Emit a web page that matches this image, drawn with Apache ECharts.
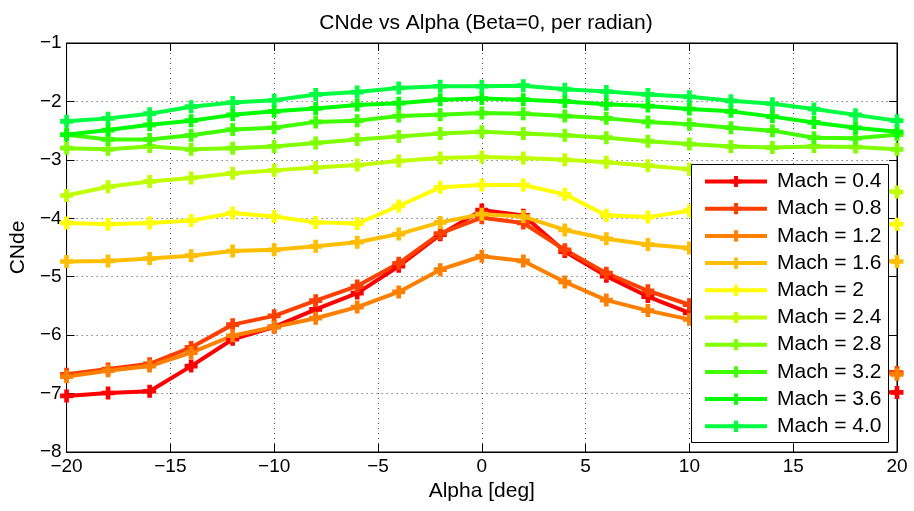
<!DOCTYPE html>
<html>
<head>
<meta charset="utf-8">
<script src="https://cdn.jsdelivr.net/npm/echarts@6/dist/echarts.min.js"></script>
<style>html,body{margin:0;padding:0;background:#fff;}#c{width:914px;height:511px;}</style>
</head>
<body>
<div id="c"></div>
<script>
const alpha = [-20,-18,-16,-14,-12,-10,-8,-6,-4,-2,0,2,4,6,8,10,12,14,16,18,20];
const machLabels = ['Mach = 0.4','Mach = 0.8','Mach = 1.2','Mach = 1.6','Mach = 2','Mach = 2.4','Mach = 2.8','Mach = 3.2','Mach = 3.6','Mach = 4.0'];
const colors = ['#ff0000','#ff4000','#ff8000','#ffbf00','#ffff00','#bfff00','#80ff00','#40ff00','#00ff00','#00ff40'];
const m04 = [-7.04,-6.99,-6.96,-6.53,-6.07,-5.86,-5.56,-5.28,-4.82,-4.28,-3.86,-3.95,-4.57,-4.99,-5.34,-5.62,-6.05,-6.50,-6.93,-6.96,-6.98];
const m08 = [-6.67,-6.58,-6.49,-6.21,-5.82,-5.67,-5.41,-5.16,-4.77,-4.26,-3.99,-4.08,-4.54,-4.94,-5.24,-5.48,-5.75,-6.10,-6.45,-6.57,-6.64];
const m12 = [-6.71,-6.61,-6.53,-6.30,-6.01,-5.86,-5.71,-5.52,-5.26,-4.88,-4.65,-4.73,-5.09,-5.40,-5.58,-5.73,-5.90,-6.25,-6.50,-6.60,-6.67];
const m16 = [-4.74,-4.73,-4.69,-4.64,-4.56,-4.54,-4.48,-4.41,-4.27,-4.07,-3.93,-3.97,-4.20,-4.35,-4.45,-4.51,-4.56,-4.62,-4.67,-4.71,-4.74];
const m20 = [-4.08,-4.10,-4.08,-4.04,-3.91,-3.97,-4.07,-4.09,-3.79,-3.47,-3.43,-3.43,-3.59,-3.95,-3.98,-3.87,-3.93,-4.03,-4.08,-4.10,-4.10];
const m24 = [-3.61,-3.46,-3.37,-3.31,-3.23,-3.18,-3.13,-3.09,-3.02,-2.97,-2.95,-2.97,-3.00,-3.04,-3.10,-3.16,-3.22,-3.30,-3.38,-3.47,-3.55];
const m28 = [-2.80,-2.82,-2.77,-2.82,-2.80,-2.77,-2.71,-2.65,-2.60,-2.55,-2.52,-2.55,-2.58,-2.62,-2.68,-2.73,-2.77,-2.79,-2.77,-2.78,-2.82];
const m32 = [-2.57,-2.65,-2.65,-2.58,-2.48,-2.45,-2.35,-2.33,-2.25,-2.23,-2.20,-2.21,-2.25,-2.29,-2.35,-2.39,-2.45,-2.50,-2.62,-2.63,-2.57];
const m36 = [-2.57,-2.49,-2.40,-2.33,-2.23,-2.17,-2.12,-2.06,-2.03,-1.97,-1.95,-1.97,-2.00,-2.05,-2.08,-2.13,-2.17,-2.26,-2.36,-2.45,-2.52];
const m40 = [-2.34,-2.29,-2.21,-2.09,-2.02,-1.98,-1.88,-1.84,-1.77,-1.74,-1.74,-1.73,-1.79,-1.83,-1.88,-1.92,-1.99,-2.04,-2.13,-2.23,-2.33];
const allSeries = [m04,m08,m12,m16,m20,m24,m28,m32,m36,m40];
const xTicks = [-20,-15,-10,-5,0,5,10,15,20];
const yTicks = [-8,-7,-6,-5,-4,-3,-2,-1];

const FONT = 'Liberation Sans, Arial, Helvetica, sans-serif';
const plus = 'path://M3.2,0H6.8V3.2H10V6.8H6.8V10H3.2V6.8H0V3.2H3.2Z';
const minusFmt = v => String(v).replace('-', '\u2212');

const chart = echarts.init(document.getElementById('c'), null, {renderer:'canvas'});
const series = allSeries.map((arr, i) => ({
  name: machLabels[i],
  type: 'line',
  data: alpha.map((a, k) => [a, arr[k]]),
  symbol: plus,
  symbolSize: 13,
  showAllSymbol: true,
  clip: false,
  lineStyle: {color: colors[i], width: 4},
  itemStyle: {color: colors[i]},
  emphasis: {disabled: true},
  animation: false,
  z: 2
}));

chart.setOption({
  animation: false,
  backgroundColor: '#fff',
  title: {
    text: 'CNde vs Alpha (Beta=0, per radian)',
    left: 481, top: 8, textAlign: 'center',
    textStyle: {fontFamily: FONT, fontSize: 21, fontWeight: 'normal', color: '#000'}
  },
  grid: {left: 65, right: 17, top: 43, bottom: 59, show: true, borderColor: '#000', borderWidth: 1, backgroundColor: 'transparent'},
  xAxis: [{
    type: 'value', min: -20, max: 20, interval: 5,
    name: 'Alpha [deg]', nameLocation: 'middle', nameGap: 27,
    nameTextStyle: {fontFamily: FONT, fontSize: 21, color: '#000'},
    axisLine: {show: true, onZero: false, lineStyle: {color: '#000', width: 1}},
    axisTick: {show: true, inside: true, length: 8, lineStyle: {color: '#000'}},
    axisLabel: {fontFamily: FONT, fontSize: 19, color: '#000', margin: 5, formatter: minusFmt},
    splitLine: {show: true, lineStyle: {color: '#444', type: [1, 4], width: 1}}
  }, {
    type: 'value', min: -20, max: 20, interval: 5, position: 'top',
    axisLine: {show: true, onZero: false, lineStyle: {color: '#000'}},
    axisTick: {show: true, inside: true, length: 8, lineStyle: {color: '#000'}},
    axisLabel: {show: false}, splitLine: {show: false}
  }],
  yAxis: [{
    type: 'value', min: -8, max: -1, interval: 1,
    name: 'CNde', nameLocation: 'middle', nameGap: 35, nameRotate: 90,
    nameTextStyle: {fontFamily: FONT, fontSize: 21, color: '#000'},
    axisLine: {show: true, onZero: false, lineStyle: {color: '#000', width: 1}},
    axisTick: {show: true, inside: true, length: 8, lineStyle: {color: '#000'}},
    axisLabel: {fontFamily: FONT, fontSize: 19, color: '#000', margin: 5, formatter: minusFmt},
    splitLine: {show: true, lineStyle: {color: '#444', type: [1, 4], width: 1}}
  }, {
    type: 'value', min: -8, max: -1, interval: 1, position: 'right',
    axisLine: {show: true, onZero: false, lineStyle: {color: '#000'}},
    axisTick: {show: true, inside: true, length: 8, lineStyle: {color: '#000'}},
    axisLabel: {show: false}, splitLine: {show: false}
  }],
  legend: {
    orient: 'vertical', left: 692, top: 165,
    data: machLabels,
    itemWidth: 62, itemHeight: 14, itemGap: 6.2,
    padding: [6, 6, 6, 11],
    lineStyle: {width: 4},
    textStyle: {fontFamily: FONT, fontSize: 21, color: '#000', padding: [0, 0, 0, 5]},
    selectedMode: false,
    z: 10
  },
  graphic: [{
    type: 'rect', z: 5, silent: true,
    shape: {x: 691.5, y: 164.5, width: 197, height: 278},
    style: {fill: '#fff', stroke: '#000', lineWidth: 1}
  }],
  series: series
});
</script>
</body>
</html>
